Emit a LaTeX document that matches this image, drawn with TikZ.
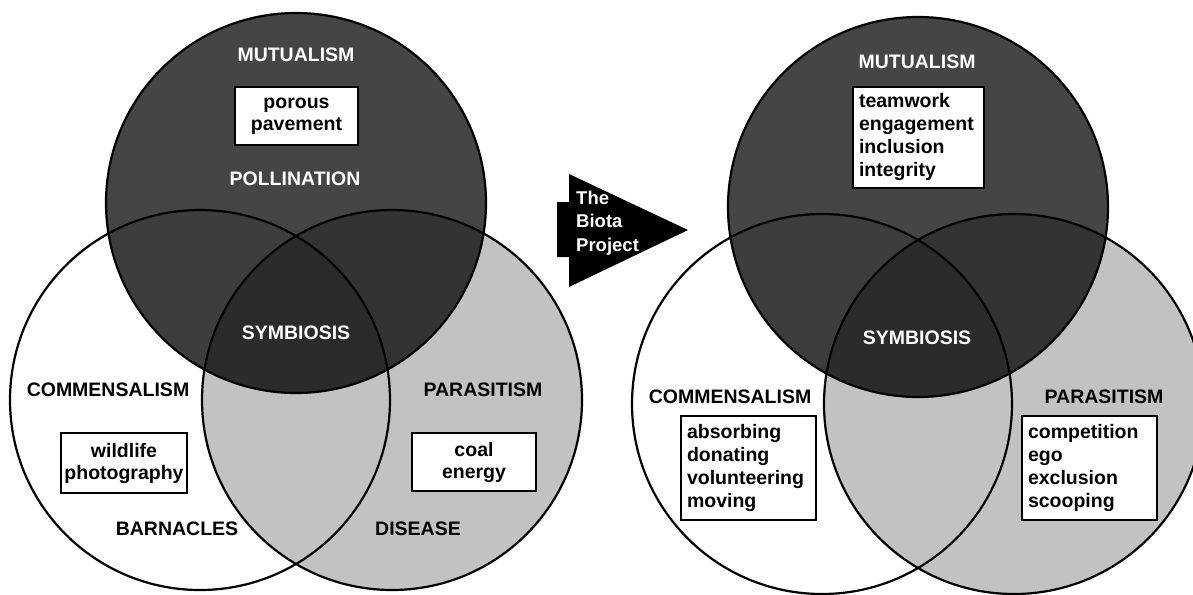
\documentclass[tikz,border=0pt]{standalone}
\usepackage{fontspec}
\setmainfont{Liberation Sans}
\definecolor{dk}{gray}{0.27}
\definecolor{dkL}{gray}{0.24}
\definecolor{dkR}{gray}{0.20}
\definecolor{dkC}{gray}{0.17}
\definecolor{lg}{gray}{0.76}
\newcommand\drawvenndisks{%
  \fill[lg] (392,400) circle[radius=190pt];
  \fill[dk] (296,203) circle[radius=190pt];
  \begin{scope}
    \clip (296,203) circle[radius=190pt];
    \fill[dkL] (200,400) circle[radius=190pt];
    \fill[dkR] (392,400) circle[radius=190pt];
    \clip (200,400) circle[radius=190pt];
    \fill[dkC] (392,400) circle[radius=190pt];
  \end{scope}
  \draw[circ] (296,203) circle[radius=190pt];
  \draw[circ] (200,400) circle[radius=190pt];
  \draw[circ] (392,400) circle[radius=190pt];
}
\begin{document}
\begin{tikzpicture}[x=1pt,y=-1pt,
  circ/.style={draw=black,line width=2.2pt},
  lbl/.style={font=\bfseries\fontsize{19.5}{22}\selectfont,inner sep=0pt},
  wlbl/.style={lbl,text=white},
  tbox/.style={draw=black,line width=2.6pt,fill=white,inner sep=0pt,align=center,
    font=\bfseries\fontsize{19.5}{22}\selectfont},
  lbox/.style={draw=black,line width=2.6pt,fill=white,inner xsep=6pt,inner ysep=0pt,
    align=left,font=\bfseries\fontsize{19.5}{23}\selectfont}]
\clip (0,0) rectangle (1193,594);
\fill[white] (0,0) rectangle (1193,594);
% left diagram
\drawvenndisks
\node[wlbl] (mut1) at (296,55) {MUTUALISM};
\node[tbox,minimum width=123pt,minimum height=58pt] (pp) at (296.5,116) {porous\\pavement};
\node[wlbl] (pol) at (295,179) {POLLINATION};
\node[wlbl] (sym1) at (296,333) {SYMBIOSIS};
\node[lbl] (com1) at (108,390) {COMMENSALISM};
\node[lbl] (par1) at (483,390) {PARASITISM};
\node[tbox,minimum width=126pt,minimum height=60pt] (wp) at (124,463) {wildlife\\photography};
\node[tbox,minimum width=124pt,minimum height=58pt] (ce) at (474,462) {coal\\energy};
\node[lbl] (bar) at (177,529) {BARNACLES};
\node[lbl] (dis) at (418,529) {DISEASE};
% arrow
\fill[black] (557,202) -- (569,202) -- (569,174) -- (688,230) -- (569,287) -- (569,257) -- (557,257) -- cycle;
\node[text=white,font=\bfseries\fontsize{18.5}{23.5}\selectfont,inner sep=0pt,align=left,anchor=west] (biota) at (576,223) {The\\Biota\\Project};
% right diagram
\begin{scope}[shift={(622,4)}]
\drawvenndisks
\end{scope}
\node[wlbl] (mut2) at (917,62) {MUTUALISM};
\node[lbox,text width=119pt,minimum height=101pt] (mbox) at (918.5,137.5) {teamwork\\engagement\\inclusion\\integrity};
\node[wlbl] (sym2) at (917,338) {SYMBIOSIS};
\node[lbl] (com2) at (730,397) {COMMENSALISM};
\node[lbl] (par2) at (1104,397) {PARASITISM};
\node[lbox,text width=123pt,minimum height=104pt] (cbox) at (748.5,468) {absorbing\\donating\\volunteering\\moving};
\node[lbox,text width=123pt,minimum height=104pt] (pbox) at (1089.5,468) {competition\\ego\\exclusion\\scooping};
\end{tikzpicture}
\end{document}
